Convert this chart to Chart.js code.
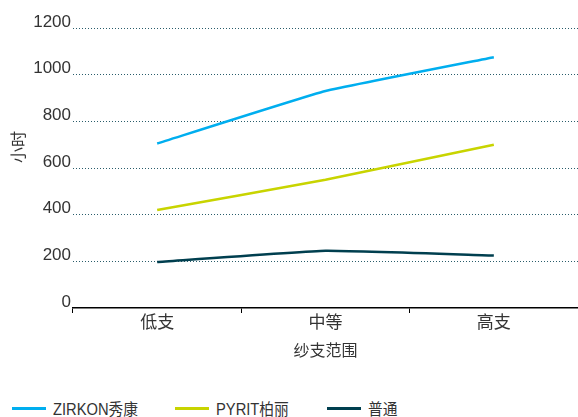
<!DOCTYPE html>
<html>
<head>
<meta charset="utf-8">
<script src="https://cdn.jsdelivr.net/npm/chart.js@4"></script>
<style>
	html, body { margin: 0; padding: 0; background: #fff; }
	#wrap { position: relative; width: 578px; height: 417px; }
	#box { position: absolute; left: 0; top: 0; width: 578px; height: 370px; }
	#legend { position: absolute; left: 0; top: 396px; width: 578px; height: 20px; font: 16px "Liberation Sans", "Noto Sans CJK SC", sans-serif; color: #333; }
	#legend .item { position: absolute; top: 0; display: flex; align-items: center; white-space: nowrap; }
	#legend .swatch { width: 34px; height: 3px; margin-right: 7px; }
	#legend .name { display: inline-block; transform: scaleX( 0.92 ); transform-origin: left center; }
</style>
</head>
<body>
<div id="wrap">
	<div id="box"><canvas id="chart"></canvas></div>
	<div id="legend"></div>
</div>
<script>
var categories = [ '低支', '中等', '高支' ];
var seriesNames = [ 'ZIRKON秀康', 'PYRIT柏丽', '普通' ];
var zirkonHours = [ 705, 930, 1075 ];
var pyritHours = [ 420, 550, 700 ];
var normalHours = [ 197, 245, 225 ];
var yTicks = [ 0, 200, 400, 600, 800, 1000, 1200 ];
var seriesColors = [ '#00aeef', '#c8d400', '#003f4f' ];
var legendLeft = [ 12, 175, 327 ];

var fontFamily = '"Liberation Sans", "Noto Sans CJK SC", sans-serif';
var seriesValues = [ zirkonHours, pyritHours, normalHours ];

var datasets = seriesNames.map( function ( name, i ) {
	return {
		label: name,
		data: seriesValues[ i ],
		borderColor: seriesColors[ i ],
		backgroundColor: seriesColors[ i ],
		borderWidth: 2.5,
		pointRadius: 0,
		tension: 0.1,
		fill: false
	};
} );

// Y axis title sits a bit above the middle in the reference.
var yTitlePlugin = {
	id: 'yTitle',
	afterDraw: function ( chart ) {
		var ctx = chart.ctx;
		var area = chart.chartArea;
		ctx.save();
		ctx.translate( 20, area.top + area.height * 0.425 );
		ctx.rotate( -Math.PI / 2 );
		ctx.fillStyle = '#333';
		ctx.font = '16px ' + fontFamily;
		ctx.textAlign = 'center';
		ctx.textBaseline = 'middle';
		ctx.fillText( '小时', 0, 0 );
		ctx.restore();
	}
};

new Chart( document.getElementById( 'chart' ).getContext( '2d' ), {
	type: 'line',
	data: { labels: categories, datasets: datasets },
	plugins: [ yTitlePlugin ],
	options: {
		responsive: true,
		maintainAspectRatio: false,
		animation: false,
		layout: { padding: { top: 28, right: 0, left: 0, bottom: 0 } },
		plugins: {
			legend: { display: false },
			tooltip: { enabled: false }
		},
		scales: {
			x: {
				offset: true,
				border: { display: true, color: '#000', width: 1.5 },
				grid: { drawOnChartArea: false, drawTicks: true, tickLength: 5, color: '#000', offset: true },
				ticks: { color: '#333', font: { family: fontFamily, size: 17 }, padding: 0 },
				title: { display: true, text: '纱支范围', color: '#333', font: { family: fontFamily, size: 16 }, padding: { top: 4, bottom: 9 } },
				afterFit: function ( scale ) { scale.height = 62; }
			},
			y: {
				min: 0,
				max: 1200,
				afterBuildTicks: function ( scale ) {
					scale.ticks = yTicks.map( function ( v ) { return { value: v }; } );
				},
				border: { display: false, dash: [ 1, 2 ] },
				grid: {
					color: function ( ctx ) { return ctx.tick && ctx.tick.value === 0 ? 'rgba(0,0,0,0)' : '#2a5d6b'; },
					lineWidth: 1,
					drawTicks: false
				},
				ticks: {
					color: '#333',
					font: { family: fontFamily, size: 17 },
					padding: 2,
					labelOffset: -6,
					callback: function ( v ) { return String( v ); }
				},
				title: { display: false },
				afterFit: function ( scale ) { scale.width = 73; }
			}
		}
	}
} );

var legend = document.getElementById( 'legend' );
seriesNames.forEach( function ( name, i ) {
	var item = document.createElement( 'div' );
	item.className = 'item';
	item.style.left = legendLeft[ i ] + 'px';
	item.innerHTML = '<span class="swatch" style="background:' + seriesColors[ i ] + '"></span><span class="name">' + name + '</span>';
	legend.appendChild( item );
} );
</script>
</body>
</html>
